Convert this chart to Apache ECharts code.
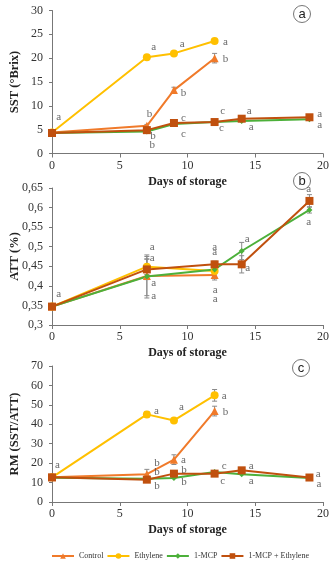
<!DOCTYPE html>
<html>
<head>
<meta charset="utf-8">
<script src="https://cdn.jsdelivr.net/npm/echarts@6/dist/echarts.min.js"></script>
<style>
html,body{margin:0;padding:0;background:#fff;}
#chart{width:335px;height:567px;}
</style>
</head>
<body>
<div id="chart"></div>
<script>
// storage days
const ctrlDays = [0, 7, 9, 12];
const mcpDays = [0, 7, 9, 12, 14, 19];
const attCtrlDays = [0, 7, 12];
const attMcpDays = [0, 7, 12, 14, 19];

const treatments = ['Control', 'Ethylene', '1-MCP', '1-MCP + Ethylene'];

// SST (°Brix)
const sstControl = [4.4, 5.8, 13.3, 20.0];
const sstEthylene = [4.4, 20.2, 21.0, 23.6];
const sstMcp = [4.3, 4.6, 6.2, 6.6, 6.8, 7.2];
const sstMcpEth = [4.3, 4.9, 6.4, 6.6, 7.3, 7.6];
const sstErrControl = [0, 0.3, 0.6, 1.0];
const sstErrEthylene = [0, 0.4, 0.3, 0.3];

// ATT (%)
const attControl = [0.347, 0.425, 0.428];
const attEthylene = [0.347, 0.449, 0.438];
const attMcp = [0.347, 0.424, 0.442, 0.489, 0.594];
const attMcpEth = [0.347, 0.442, 0.455, 0.455, 0.617];
const attErrControl = [0, 0.05, 0.013];
const attErrEthylene = [0, 0.02, 0.01];
const attErrMcp = [0, 0.055, 0.01, 0.022, 0.008];
const attErrMcpEth = [0, 0.026, 0.008, 0.022, 0.016];

// RM (SST/ATT)
const rmControl = [12.7, 14.3, 21.8, 46.8];
const rmEthylene = [12.7, 45.1, 42.0, 54.9];
const rmMcp = [12.5, 12.0, 12.4, 15.4, 14.3, 12.3];
const rmMcpEth = [12.7, 11.5, 14.6, 14.6, 16.3, 12.6];
const rmErrControl = [0, 2.5, 2.5, 2.5];
const rmErrEthylene = [0, 1.5, 0.5, 3.0];

// significance letters [day, value, letter]
const sstLetters = [[0.5, 7.7, 'a'], [7.5, 22.3, 'a'], [9.6, 23.0, 'a'], [12.8, 23.3, 'a'], [12.8, 19.8, 'b'],
  [9.7, 12.7, 'b'], [7.2, 8.3, 'b'], [7.45, 3.7, 'b'], [7.4, 1.7, 'b'], [9.7, 7.4, 'c'], [9.7, 4.1, 'c'],
  [12.6, 8.9, 'c'], [12.5, 5.4, 'c'], [14.55, 8.9, 'a'], [14.7, 5.6, 'a'], [19.75, 8.3, 'a'], [19.75, 6.0, 'a']];
const attLetters = [[0.5, 0.38, 'a'], [7.4, 0.5, 'a'], [7.4, 0.47, 'a'], [7.5, 0.406, 'a'], [7.5, 0.374, 'a'],
  [12.0, 0.5, 'a'], [12.0, 0.487, 'a'], [12.05, 0.39, 'a'], [12.05, 0.367, 'a'], [14.4, 0.519, 'a'], [14.45, 0.446, 'a'],
  [18.95, 0.647, 'a'], [18.95, 0.564, 'a']];
const rmLetters = [[0.4, 19.2, 'a'], [7.7, 46.7, 'a'], [9.55, 48.9, 'a'], [12.7, 54.4, 'a'], [12.8, 46.3, 'b'],
  [9.7, 21.5, 'a'], [7.75, 19.8, 'b'], [7.75, 15.4, 'b'], [7.75, 8.1, 'b'], [9.75, 16.3, 'b'], [9.75, 10.3, 'b'],
  [12.7, 18.4, 'c'], [12.6, 10.8, 'c'], [14.7, 18.7, 'a'], [14.7, 10.8, 'a'], [19.65, 14.1, 'a'], [19.7, 9.1, 'a']];

const colors = ['#F07A2A', '#FFC000', '#4CB03A', '#C0500E'];
const symbols = ['triangle', 'circle', 'diamond', 'rect'];
const symbolSizes = [8, 8, 6, 8];
const serif = 'Liberation Serif';

const grids = [
  { left: 52, top: 10.5, width: 271, height: 143, outerBoundsMode: 'none', containLabel: false },
  { left: 52, top: 188, width: 271, height: 137, outerBoundsMode: 'none', containLabel: false },
  { left: 52, top: 366, width: 271, height: 136, outerBoundsMode: 'none', containLabel: false }
];

function xAxisFor(i) {
  return {
    gridIndex: i, type: 'value', min: 0, max: 20, interval: 5,
    name: 'Days of storage', nameLocation: 'middle', nameGap: 22, nameMoveOverlap: false,
    nameTextStyle: { fontFamily: serif, fontWeight: 'bold', fontSize: 12, color: '#222' },
    axisLine: { lineStyle: { color: '#777', width: 1 } },
    axisTick: { show: true, length: 4, lineStyle: { color: '#777' } },
    axisLabel: { fontFamily: serif, fontSize: 12, color: '#333', margin: 6 },
    splitLine: { show: false }
  };
}
function yAxisFor(i, name, min, max, interval, fmt) {
  return {
    gridIndex: i, type: 'value', min: min, max: max, interval: interval,
    name: name, nameLocation: 'middle', nameGap: 31, nameRotate: 90, nameMoveOverlap: false,
    nameTextStyle: { fontFamily: serif, fontWeight: 'bold', fontSize: 12.5, color: '#222' },
    axisLine: { show: true, lineStyle: { color: '#777', width: 1 } },
    axisTick: { show: true, length: 3, lineStyle: { color: '#777' } },
    axisLabel: { fontFamily: serif, fontSize: 12, color: '#333', margin: 9, formatter: fmt },
    splitLine: { show: false }
  };
}

const series = [];
function addLine(panel, t, xs, ys) {
  series.push({
    name: treatments[t], type: 'line', xAxisIndex: panel, yAxisIndex: panel,
    data: xs.map((x, k) => [x, ys[k]]),
    color: colors[t], symbol: symbols[t], symbolSize: symbolSizes[t],
    lineStyle: { width: 2, color: colors[t] }, itemStyle: { color: colors[t] },
    z: 3 + (t === 3 ? 1 : 0)
  });
}
function addErr(panel, xs, ys, es) {
  const data = [];
  xs.forEach((x, k) => { if (es[k] > 0) data.push([x, ys[k] - es[k], ys[k] + es[k]]); });
  series.push({
    type: 'custom', xAxisIndex: panel, yAxisIndex: panel, data: data, z: 2,
    renderItem: function (params, api) {
      const lo = api.coord([api.value(0), api.value(1)]);
      const hi = api.coord([api.value(0), api.value(2)]);
      const w = 2.5;
      const st = { stroke: '#8a8a8a', lineWidth: 1 };
      return {
        type: 'group', children: [
          { type: 'line', shape: { x1: lo[0], y1: lo[1], x2: hi[0], y2: hi[1] }, style: st },
          { type: 'line', shape: { x1: lo[0] - w, y1: lo[1], x2: lo[0] + w, y2: lo[1] }, style: st },
          { type: 'line', shape: { x1: hi[0] - w, y1: hi[1], x2: hi[0] + w, y2: hi[1] }, style: st }
        ]
      };
    }
  });
}
function addLetters(panel, letters) {
  series.push({
    type: 'scatter', xAxisIndex: panel, yAxisIndex: panel, symbolSize: 0, silent: true,
    data: letters.map(l => ({ value: [l[0], l[1]], label: { formatter: l[2] } })),
    label: { show: true, position: 'inside', fontFamily: serif, fontSize: 11, color: '#444' },
    z: 5
  });
}

// panel a
addErr(0, ctrlDays, sstControl, sstErrControl);
addErr(0, ctrlDays, sstEthylene, sstErrEthylene);
addLine(0, 0, ctrlDays, sstControl);
addLine(0, 1, ctrlDays, sstEthylene);
addLine(0, 2, mcpDays, sstMcp);
addLine(0, 3, mcpDays, sstMcpEth);
addLetters(0, sstLetters);
// panel b
addErr(1, attCtrlDays, attControl, attErrControl);
addErr(1, attCtrlDays, attEthylene, attErrEthylene);
addErr(1, attMcpDays, attMcp, attErrMcp);
addErr(1, attMcpDays, attMcpEth, attErrMcpEth);
addLine(1, 0, attCtrlDays, attControl);
addLine(1, 1, attCtrlDays, attEthylene);
addLine(1, 2, attMcpDays, attMcp);
addLine(1, 3, attMcpDays, attMcpEth);
addLetters(1, attLetters);
// panel c
addErr(2, ctrlDays, rmControl, rmErrControl);
addErr(2, ctrlDays, rmEthylene, rmErrEthylene);
addLine(2, 0, ctrlDays, rmControl);
addLine(2, 1, ctrlDays, rmEthylene);
addLine(2, 2, mcpDays, rmMcp);
addLine(2, 3, mcpDays, rmMcpEth);
addLetters(2, rmLetters);

function panelTag(letter, x, y) {
  return {
    type: 'group', left: x - 9, top: y - 9, children: [
      { type: 'circle', shape: { cx: 9, cy: 9, r: 8.5 }, style: { fill: '#fff', stroke: '#777', lineWidth: 1 } },
      { type: 'text', style: { text: letter, x: 9, y: 9, align: 'center', verticalAlign: 'middle',
        font: '13px Liberation Sans', fill: '#222' } }
    ]
  };
}

const chart = echarts.init(document.getElementById('chart'));
chart.setOption({
  animation: false,
  backgroundColor: '#fff',
  grid: grids,
  xAxis: [xAxisFor(0), xAxisFor(1), xAxisFor(2)],
  yAxis: [
    yAxisFor(0, 'SST (°Brix)', 0, 30, 5),
    yAxisFor(1, 'ATT (%)', 0.3, 0.65, 0.05, v => String(Math.round(v * 100) / 100).replace('.', ',')),
    yAxisFor(2, 'RM (SST/ATT)', 0, 70, 10)
  ],
  legend: {
    data: treatments, top: 547, left: 46, itemWidth: 22, itemHeight: 7, itemGap: 3,
    textStyle: { fontFamily: serif, fontSize: 8, color: '#333' }
  },
  graphic: [panelTag('a', 302, 14), panelTag('b', 302, 181), panelTag('c', 301, 368)],
  series: series
});
</script>
</body>
</html>
